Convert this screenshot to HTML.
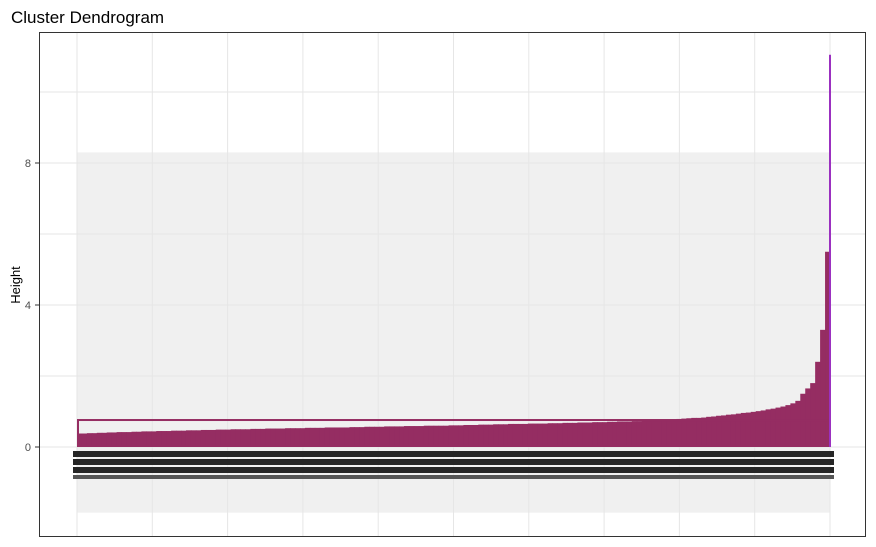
<!DOCTYPE html>
<html><head><meta charset="utf-8"><style>
body{margin:0;background:#fff;}
svg{display:block;font-family:"Liberation Sans",Arial,sans-serif;}
</style></head><body>
<svg id="chart" width="876" height="547">
<text x="11" y="23" font-size="17" fill="#000">Cluster Dendrogram</text>
<text transform="translate(20,285) rotate(-90)" text-anchor="middle" font-size="13" fill="#000">Height</text>
<g id="grid"></g>
<g id="marks"></g>
<g id="axis"></g>
<rect x="39.5" y="32.5" width="826" height="504" fill="none" stroke="#333" stroke-width="1"/>
</svg>
<script>
const yTicks = [0, 4, 8];
const yMinor = [2, 6, 10];
const topMerge = 11.05;
const boxHeight = 0.76;
const labelRegion = [-1.85, 8.3];
// merge heights across leaves (left to right), sampled
const mergeHeights = [
0.38,0.38,0.39,0.39,0.4,0.4,0.41,0.41,0.42,0.42,0.42,0.43,0.43,0.44,0.44,
0.44,0.45,0.45,0.45,0.46,0.46,0.46,0.47,0.47,0.47,0.48,0.48,0.48,0.49,0.49,0.49,0.5,0.5,0.5,0.5,
0.51,0.51,0.51,0.52,0.52,0.52,0.52,0.53,0.53,0.53,0.53,0.54,0.54,0.54,0.54,0.55,0.55,0.55,0.55,0.55,
0.56,0.56,0.56,0.57,0.57,0.57,0.57,0.58,0.58,0.58,0.58,0.59,0.59,0.59,0.59,0.6,0.6,0.6,0.6,0.6,
0.61,0.61,0.61,0.62,0.62,0.62,0.63,0.63,0.63,0.64,0.64,0.64,0.65,0.65,0.65,0.65,0.66,0.66,0.66,0.66,
0.67,0.67,0.67,0.68,0.68,0.68,0.69,0.69,0.69,0.7,0.7,0.7,0.71,0.71,0.72,0.72,0.72,0.73,0.73,0.74,
0.74,0.75,0.75,0.76,0.77,0.78,0.79,0.8,0.81,0.82,
0.82,0.83,0.85,0.86,0.88,0.89,0.91,0.92,0.94,0.96,
0.97,0.99,1.01,1.03,1.06,1.08,1.11,
1.14,1.18,1.23,1.3,1.5,1.65,1.8,2.4,3.3,5.5];
const ns="http://www.w3.org/2000/svg";
const X0=77, X1=830, Y0=447, PU=35.5;
function y(v){return Y0-v*PU;}
function xi(i,n){return X0+(X1-X0)*i/n;}
function mk(tag,attrs,parent){const e=document.createElementNS(ns,tag);for(const k in attrs)e.setAttribute(k,attrs[k]);parent.appendChild(e);return e;}
const grid=document.getElementById('grid'),marks=document.getElementById('marks'),axis=document.getElementById('axis');
let bg=mk('rect',{x:X0,y:y(labelRegion[1]),width:X1-X0,height:y(labelRegion[0])-y(labelRegion[1]),fill:'#f0f0f0'},grid);


for(let i=0;i<=10;i++){const gx=X0+75.3*i;let l=mk('line',{x1:gx,x2:gx,y1:33,y2:536,stroke:'#e6e6e6','stroke-width':1},grid);

}
yTicks.concat(yMinor).forEach(v=>{let l=mk('line',{x1:40,x2:865,y1:y(v),y2:y(v),stroke:'#e6e6e6','stroke-width':1},grid);

});
const n=mergeHeights.length;
mergeHeights.forEach((h,i)=>{const x=xi(i,n),w=xi(i+1,n)-x+0.5;let r=mk('rect',{x:x,y:y(h),width:w,height:Y0-y(h),fill:'#952d62'},marks);

});
let b=mk('rect',{x:X0+1,y:y(boxHeight),width:X1-X0-2,height:Y0-y(boxHeight)-1,fill:'none',stroke:'#952d62','stroke-width':2},marks);


let t=mk('line',{x1:X1,x2:X1,y1:y(topMerge),y2:Y0,stroke:'#9b30c0','stroke-width':2},marks);


[[451,6],[459,6],[467,6],[475,4]].forEach((bd,i)=>{let r=mk('rect',{x:X0-4,y:bd[0],width:X1-X0+8,height:bd[1],fill:i==3?'#555':'#262626'},marks);

});
yTicks.forEach(v=>{let l=mk('line',{x1:35,x2:39.5,y1:y(v),y2:y(v),stroke:'#333'},axis);


let tx=mk('text',{x:31,y:y(v)+4,'text-anchor':'end','font-size':11,fill:'#4d4d4d'},axis);tx.textContent=v;

});
</script>
</body></html>
